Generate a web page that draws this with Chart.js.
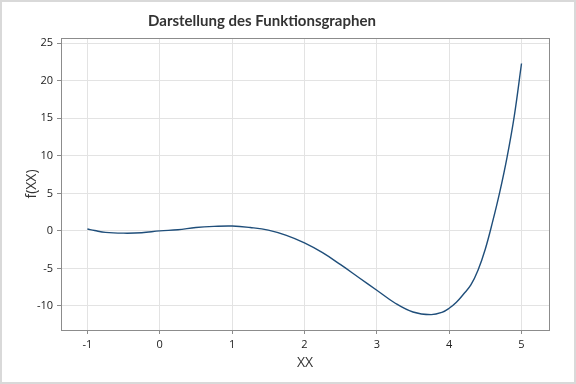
<!DOCTYPE html>
<html>
<head>
<meta charset="utf-8">
<script src="https://cdn.jsdelivr.net/npm/chart.js@4"></script>
<style>
  html, body { margin: 0; padding: 0; background: #fff; }
  #wrap { width: 576px; height: 384px; position: relative; }
</style>
</head>
<body>
<div id="wrap"><canvas id="chart" width="576" height="384"></canvas></div>
<script>
// values
const xValues = [-1, -0.9, -0.75, -0.5, -0.25, 0, 0.25, 0.5, 0.75, 1, 1.25, 1.5, 1.75, 2, 2.25, 2.5, 2.75, 3, 3.25, 3.5, 3.75, 3.9, 4, 4.1, 4.2, 4.3, 4.4, 4.5, 4.6, 4.7, 4.8, 4.9, 5];
const yValues = [0.25, 0.05, -0.2, -0.3, -0.25, 0, 0.15, 0.45, 0.6, 0.65, 0.45, 0.1, -0.6, -1.6, -2.9, -4.5, -6.2, -7.9, -9.6, -10.8, -11.15, -10.85, -10.3, -9.5, -8.4, -7.2, -5.2, -2.4, 1.2, 5.2, 9.8, 15.3, 22.3];
const xTicks = [-1, 0, 1, 2, 3, 4, 5];
const yTicks = [-10, -5, 0, 5, 10, 15, 20, 25];
const chartTitle = 'Darstellung des Funktionsgraphen';

const points = xValues.map((x, i) => ({ x: x, y: yValues[i] }));

const fontFamily = '"Open Sans", "Noto Sans", sans-serif';

// title (the reference centres it a bit left of the plot), full frame, outer border
const framePlugin = {
    id: 'frame',
    afterDraw(chart) {
        const { ctx, chartArea } = chart;
        ctx.save();
        ctx.strokeStyle = '#8c8c8c';
        ctx.lineWidth = 1;
        ctx.strokeRect(Math.round(chartArea.left) + 0.5, Math.round(chartArea.top) + 0.5,
            Math.round(chartArea.right - chartArea.left), Math.round(chartArea.bottom - chartArea.top));
        ctx.strokeStyle = '#d9d9d9';
        ctx.lineWidth = 2;
        ctx.strokeRect(1, 1, chart.width - 2, chart.height - 2);

        ctx.fillStyle = '#333';
        ctx.font = '700 15px Lato, "Open Sans", sans-serif';
        ctx.textAlign = 'center';
        ctx.textBaseline = 'middle';
        ctx.fillText(chartTitle, 262, 21);
        ctx.restore();
    }
};

const ctx = document.getElementById('chart').getContext('2d');
new Chart(ctx, {
    type: 'line',
    data: {
        datasets: [{
            label: 'f(XX)',
            data: points,
            borderColor: '#1f4e7a',
            borderWidth: 1.4,
            pointRadius: 0,
            fill: false,
            tension: 0.4,
        }],
    },
    options: {
        responsive: false,
        animation: false,
        layout: { padding: { left: 0, right: 27, top: 38, bottom: 0 } },
        plugins: {
            legend: { display: false },
            tooltip: { enabled: false },
            title: { display: false },
        },
        scales: {
            x: {
                type: 'linear',
                min: -1.365,
                max: 5.38,
                afterBuildTicks: (scale) => { scale.ticks = xTicks.map(v => ({ value: v })); },
                afterFit: (scale) => { scale.height = 54; },
                grid: { color: '#e3e3e3', tickColor: '#8c8c8c', tickLength: 4 },
                border: { color: '#8c8c8c' },
                ticks: { color: '#222', font: { family: fontFamily, size: 11 }, padding: 4, maxRotation: 0 },
                title: {
                    display: true,
                    text: 'XX',
                    color: '#333',
                    font: { family: fontFamily, size: 14 },
                    padding: { top: 0, bottom: 13 },
                },
            },
            y: {
                type: 'linear',
                min: -13.2,
                max: 25.7,
                afterBuildTicks: (scale) => { scale.ticks = yTicks.map(v => ({ value: v })); },
                afterFit: (scale) => { scale.width = 61; },
                grid: { color: '#e3e3e3', tickColor: '#8c8c8c', tickLength: 4 },
                border: { color: '#8c8c8c' },
                ticks: { color: '#222', font: { family: fontFamily, size: 11 }, padding: 4 },
                title: {
                    display: true,
                    text: 'f(XX)',
                    color: '#333',
                    font: { family: fontFamily, size: 14 },
                    padding: { top: 24, bottom: 0 },
                },
            },
        },
    },
    plugins: [framePlugin],
});
</script>
</body>
</html>
